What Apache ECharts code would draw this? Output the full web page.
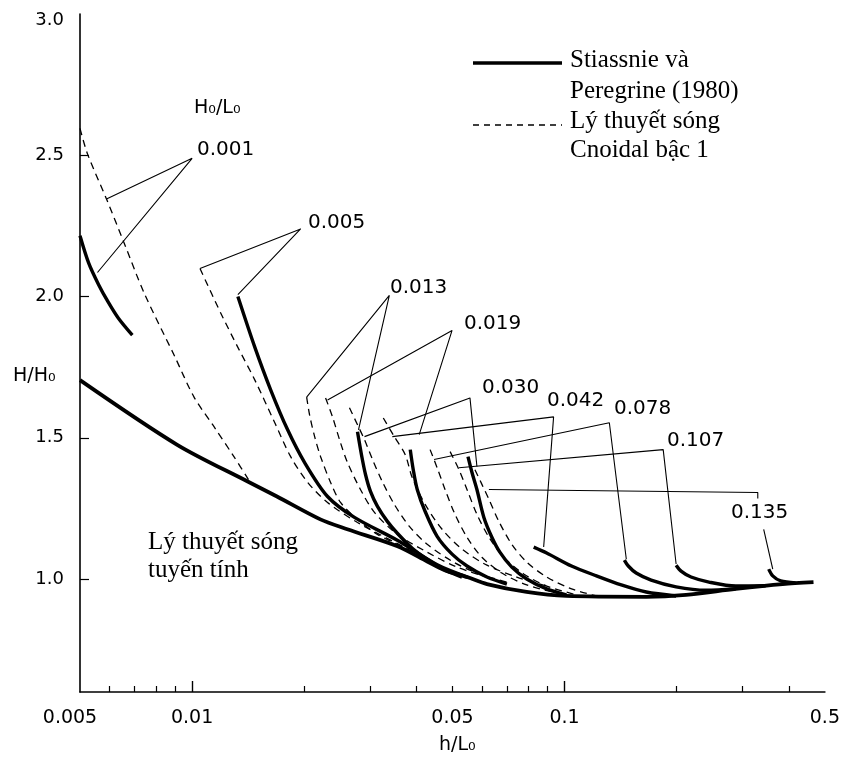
<!DOCTYPE html>
<html><head><meta charset="utf-8">
<script src="https://cdn.jsdelivr.net/npm/echarts@6/dist/echarts.min.js"></script>
<style>html,body{margin:0;padding:0;background:#fff}#c{width:843px;height:766px}</style>
</head><body><div id="c"></div>
<script>
// ---- tick values / labels ----
const xTickValues = [0.005, 0.01, 0.05, 0.1, 0.5];
const xTickText = ['0.005', '0.01', '0.05', '0.1', '0.5'];
const xMinorTicks = [0.006, 0.007, 0.008, 0.009, 0.02, 0.03, 0.04, 0.05, 0.06, 0.07, 0.08, 0.09, 0.2, 0.3, 0.4];
const xMajorTicks = [0.01, 0.1];
const yTickValues = [1.0, 1.5, 2.0, 2.5, 3.0];
const yTickMarks = [1.0, 1.5, 2.0, 2.5];
const steepness = ['0.001', '0.005', '0.013', '0.019', '0.030', '0.042', '0.078', '0.107', '0.135'];

// ---- linear wave theory (h/L0, H/H0) ----
const linear = [[0.005,1.704],[0.00912,1.475],[0.0141,1.345],[0.0169,1.292],[0.0221,1.211],[0.0261,1.176],[0.0356,1.116],[0.0428,1.062],[0.0475,1.032],[0.0547,1.007],[0.0619,0.982],[0.0791,0.954],[0.1012,0.940],[0.1657,0.937],[0.212,0.944],[0.288,0.965],[0.385,0.982],[0.466,0.989]];

// ---- Stiassnie & Peregrine (1980) ----
const sp0001 = [[0.005,2.215],[0.00527,2.120],[0.00561,2.042],[0.00596,1.979],[0.00634,1.923],[0.00691,1.863]];
const sp0005 = [[0.01327,2.000],[0.01474,1.820],[0.01626,1.669],[0.01805,1.528],[0.02005,1.412],[0.0231,1.292],[0.02728,1.218],[0.03556,1.137],[0.0455,1.05],[0.055,1.006]];
const sp0013 = [[0.0278,1.521],[0.02849,1.440],[0.02921,1.370],[0.03012,1.310],[0.03145,1.257],[0.03343,1.204],[0.03556,1.162],[0.03899,1.109],[0.04276,1.070],[0.04836,1.028],[0.05302,1.007]];
const sp0019 = [[0.03852,1.458],[0.03924,1.387],[0.04022,1.317],[0.04224,1.239],[0.04548,1.151],[0.04988,1.088],[0.0547,1.046],[0.06187,1.007],[0.06999,0.982]];
const sp0030 = [[0.05504,1.433],[0.05642,1.377],[0.05817,1.317],[0.06073,1.218],[0.0638,1.148],[0.06703,1.095],[0.07215,1.042],[0.07914,1.0],[0.08952,0.965],[0.1012,0.944]];
const sp0042 = [[0.08262,1.113],[0.08952,1.092],[0.1044,1.046],[0.1218,1.011],[0.142,0.979],[0.1657,0.954],[0.1993,0.940]];
const sp0078 = [[0.1447,1.067],[0.1483,1.046],[0.1557,1.021],[0.1708,0.996],[0.1993,0.972],[0.2398,0.960],[0.2884,0.965]];
const sp0107 = [[0.1993,1.049],[0.2055,1.028],[0.2186,1.007],[0.2442,0.989],[0.2884,0.975],[0.3467,0.976]];
const sp0135 = [[0.3533,1.035],[0.3622,1.011],[0.3804,0.993],[0.4172,0.986]];

// ---- first order cnoidal theory ----
const cn0001 = [[0.005,2.595],[0.00524,2.504],[0.00589,2.345],[0.00658,2.187],[0.00744,2.011],[0.00895,1.792],[0.01012,1.644],[0.01145,1.539],[0.01295,1.433],[0.0142,1.35]];
const cn0005 = [[0.0105,2.099],[0.01195,1.940],[0.01327,1.820],[0.01474,1.704],[0.01667,1.553],[0.01839,1.433],[0.02043,1.342],[0.0231,1.271],[0.0278,1.20],[0.0356,1.125],[0.0455,1.05]];
const cn0013 = [[0.0203,1.644],[0.02067,1.581],[0.02133,1.504],[0.02213,1.433],[0.02354,1.342],[0.02503,1.271],[0.0278,1.211],[0.03145,1.158],[0.03734,1.109],[0.04276,1.063]];
const cn0019 = [[0.02282,1.641],[0.02382,1.574],[0.02503,1.482],[0.02614,1.412],[0.02831,1.317],[0.03087,1.236],[0.03556,1.158],[0.04276,1.095],[0.05141,1.042],[0.06187,1.007]];
const cn0030 = [[0.02645,1.606],[0.0278,1.546],[0.02903,1.493],[0.0305,1.423],[0.0324,1.345],[0.03491,1.264],[0.03826,1.187],[0.04276,1.123],[0.04988,1.063],[0.05817,1.021],[0.06999,0.989]];
const cn0042 = [[0.03261,1.570],[0.03491,1.504],[0.03734,1.440],[0.03899,1.359],[0.04224,1.264],[0.0469,1.176],[0.05302,1.106],[0.06187,1.049],[0.07441,1.007],[0.08952,0.975]];
const cn0078 = [[0.04355,1.458],[0.04548,1.394],[0.04776,1.317],[0.05079,1.229],[0.0547,1.148],[0.05999,1.077],[0.06785,1.021],[0.07914,0.979],[0.09519,0.951]];
const cn0107 = [[0.04928,1.451],[0.05205,1.387],[0.0547,1.317],[0.05817,1.229],[0.06264,1.148],[0.06868,1.077],[0.07765,1.018],[0.08952,0.975],[0.1077,0.944]];
const cn0135 = [[0.05746,1.387],[0.05999,1.335],[0.06264,1.282],[0.06661,1.204],[0.07215,1.123],[0.07914,1.060],[0.08952,1.007],[0.1044,0.965],[0.1218,0.940]];

// ---- leader lines from steepness labels to curves ----
const lead0001 = [[0.00589,2.345],[0.01,2.489],[0.00557,2.085]];
const lead0005 = [[0.0105,2.099],[0.01956,2.239],[0.01327,2.007]];
const lead0013 = [[0.0203,1.644],[0.03385,2.004],[0.02797,1.528]];
const lead0019 = [[0.0231,1.634],[0.04988,1.880],[0.04072,1.511]];
const lead0030 = [[0.02903,1.504],[0.05572,1.641],[0.05817,1.398]];
const lead0042 = [[0.03448,1.504],[0.09345,1.574],[0.08788,1.113]];
const lead0078 = [[0.04464,1.423],[0.1319,1.553],[0.1465,1.070]];
const lead0107 = [[0.05205,1.394],[0.184,1.458],[0.1993,1.053]];
const lead0135a = [[0.06264,1.317],[0.3302,1.306],[0.3302,1.285]];
const lead0135b = [[0.3425,1.176],[0.3622,1.035]];

const spCurves = [sp0001, sp0005, sp0013, sp0019, sp0030, sp0042, sp0078, sp0107, sp0135];
const cnCurves = [cn0001, cn0005, cn0013, cn0019, cn0030, cn0042, cn0078, cn0107, cn0135];
const leaders = [lead0001, lead0005, lead0013, lead0019, lead0030, lead0042, lead0078, lead0107, lead0135a, lead0135b];

const SANS = 'DejaVu Sans';
const SERIF = 'Liberation Serif';

function xLabel(v) {
  let val = v < 0 ? Math.pow(10, v) : v;
  const i = xTickValues.findIndex(t => Math.abs(t - val) / t < 1e-4);
  if (i < 0) return '';
  return i === 0 ? '{f|' + xTickText[i] + '}' : xTickText[i];
}
function yLabel(v) {
  const s = v.toFixed(1);
  return v >= 2.99 ? '{t|' + s + '}' : s;
}

const series = [];
series.push({
  name: 'Lý thuyết sóng tuyến tính', type: 'line', data: linear, smooth: 0.3,
  showSymbol: false, lineStyle: { color: '#000', width: 3.8 }, z: 5
});
spCurves.forEach((d, i) => series.push({
  name: 'Stiassnie và Peregrine (1980) ' + steepness[i], type: 'line', data: d, smooth: 0.3,
  showSymbol: false, lineStyle: { color: '#000', width: 3.4 }, z: 4
}));
cnCurves.forEach((d, i) => series.push({
  name: 'Cnoidal bậc 1 ' + steepness[i], type: 'line', data: d, smooth: 0.3,
  showSymbol: false, lineStyle: { color: '#000', width: 1.3, type: [7, 5] }, z: 3
}));
leaders.forEach((d, i) => series.push({
  name: 'leader ' + i, type: 'line', data: d, smooth: false,
  showSymbol: false, lineStyle: { color: '#000', width: 1.1 }, z: 2
}));

function numText(x, y, t) {
  return { type: 'text', left: x, top: y - 12, style: { text: t, font: '20px "' + SANS + '"', fill: '#000' } };
}
function serifText(x, y, t) {
  return { type: 'text', left: x, top: y - 15, style: { text: t, font: '25px "' + SERIF + '"', fill: '#000' } };
}

const labelPos = [[197,152],[308,225],[390,290],[464,326],[482,390],[547,403],[614,411],[667,443],[731,515]];

const graphics = [
  { type: 'text', left: 194, top: 99, style: { text: 'H₀/L₀', font: '19px "' + SANS + '"', fill: '#000' } },
  { type: 'text', left: 13, top: 367, style: { text: 'H/H₀', font: '19px "' + SANS + '"', fill: '#000' } },
  { type: 'text', left: 439, top: 736, style: { text: 'h/L₀', font: '19px "' + SANS + '"', fill: '#000' } },
  // legend
  { type: 'line', shape: { x1: 473, y1: 63, x2: 562, y2: 63 }, style: { stroke: '#000', lineWidth: 3.5 } },
  { type: 'line', shape: { x1: 473, y1: 125, x2: 562, y2: 125 }, style: { stroke: '#000', lineWidth: 1.4, lineDash: [6, 5] } },
  serifText(570, 63, 'Stiassnie và'),
  serifText(570, 94, 'Peregrine (1980)'),
  serifText(570, 124, 'Lý thuyết sóng'),
  serifText(570, 153, 'Cnoidal bậc 1'),
  serifText(148, 545, 'Lý thuyết sóng'),
  serifText(148, 573, 'tuyến tính')
];
steepness.forEach((s, i) => graphics.push(numText(labelPos[i][0], labelPos[i][1], s)));

const option = {
  animation: false,
  backgroundColor: '#fff',
  grid: { left: 80, right: 15, top: 14, bottom: 74, containLabel: false },
  xAxis: [{
    type: 'log', logBase: 10, min: 0.005, max: 0.5,
    axisLine: { show: true, lineStyle: { color: '#000', width: 1.6 } },
    axisTick: { show: true, inside: true, length: 6, customValues: xMinorTicks, lineStyle: { color: '#000', width: 1.2 } },
    axisLabel: { show: true, customValues: xTickValues, formatter: xLabel, margin: 17, color: '#000',
      fontFamily: SANS, fontSize: 19, rich: { f: { fontFamily: SANS, fontSize: 19, color: '#000', padding: [0, 20, 0, 0] } } },
    splitLine: { show: false }, minorTick: { show: false }
  }, {
    type: 'log', logBase: 10, min: 0.005, max: 0.5, position: 'bottom',
    axisLine: { show: false },
    axisTick: { show: true, inside: true, length: 11, customValues: xMajorTicks, lineStyle: { color: '#000', width: 1.4 } },
    axisLabel: { show: false }, splitLine: { show: false }
  }],
  yAxis: {
    type: 'value', min: 0.6, max: 3.0,
    axisLine: { show: true, lineStyle: { color: '#000', width: 1.6 } },
    axisTick: { show: true, inside: true, length: 9, customValues: yTickMarks, lineStyle: { color: '#000', width: 1.2 } },
    axisLabel: { show: true, customValues: yTickValues, formatter: yLabel, margin: 16, color: '#000', fontFamily: SANS, fontSize: 18,
      rich: { t: { fontFamily: SANS, fontSize: 18, color: '#000', padding: [12, 0, 0, 0] } } },
    splitLine: { show: false }
  },
  series: series,
  graphic: graphics
};
const chart = echarts.init(document.getElementById('c'));
chart.setOption(option);
</script>
</body></html>
